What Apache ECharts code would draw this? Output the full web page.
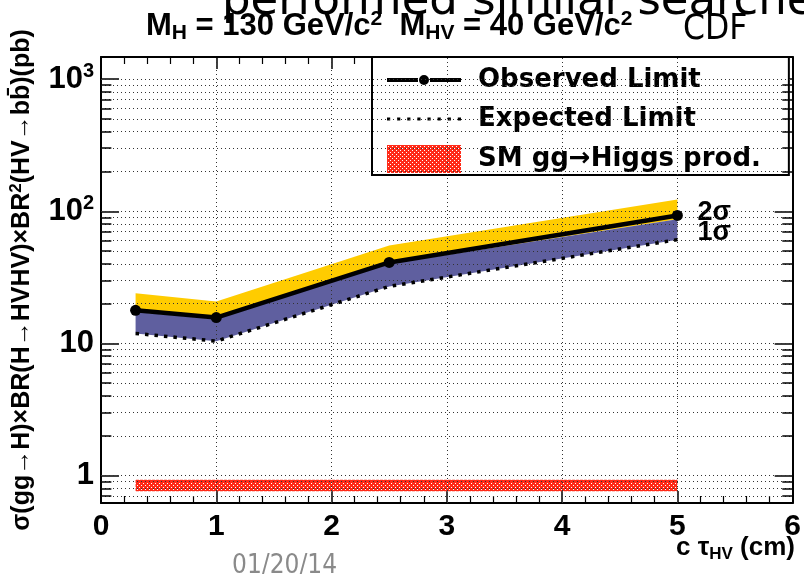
<!DOCTYPE html>
<html><head><meta charset="utf-8">
<script src="https://cdn.jsdelivr.net/npm/echarts@6/dist/echarts.min.js"></script>
<style>html,body{margin:0;padding:0;background:#fff;overflow:hidden}#c{width:804px;height:574px}</style>
</head><body><div id="c"></div>
<script>
// ---- data ----
const ctau = [0.3, 1, 2.5, 5];
const observed = [17.8, 15.7, 41, 93];
const expected = [11.9, 10.4, 27, 61];
const oneSigmaUp = [17.3, 15.3, 40, 87];
const twoSigmaUp = [24, 20.8, 55, 123];
const smX = [0.3, 5];
const smBand = [0.76, 0.93];
const xGridValues = [1, 2, 3, 4, 5];
const yDecades = [1, 10, 100, 1000];
const yMinor = [0.7, 0.8, 0.9, 2, 3, 4, 5, 6, 7, 8, 9, 20, 30, 40, 50, 60, 70, 80, 90, 200, 300, 400, 500, 600, 700, 800, 900];
const seriesNames = ['Observed Limit', 'Expected Limit', 'SM gg\u2192Higgs prod.'];

// ---- styling helpers ----
const BOLD = 'Liberation Sans, Arial, sans-serif';
const COND = '"DejaVu Sans Condensed", "DejaVu Sans", sans-serif';
function makePattern() {
  const c = document.createElement('canvas'); c.width = 4; c.height = 4;
  const g = c.getContext('2d');
  g.fillStyle = '#ff2a18'; g.fillRect(0, 0, 4, 4);
  g.fillStyle = '#ffffff'; g.fillRect(1, 1, 1, 1); g.fillRect(3, 3, 1, 1);
  return c;
}
const smFill = { image: makePattern(), repeat: 'repeat' };

function bandSeries(name, upper, lower, color, z, extraText) {
  return {
    type: 'custom', name: name, z: z, silent: true,
    xAxisIndex: 0, yAxisIndex: 0,
    data: ctau.map((x, i) => [x, upper[i], lower[i]]),
    encode: { x: 0, y: [1, 2] },
    renderItem: function (params, api) {
      if (params.dataIndex !== 0) return null;
      const pts = [];
      for (let i = 0; i < ctau.length; i++) pts.push(api.coord([ctau[i], upper[i]]));
      for (let i = ctau.length - 1; i >= 0; i--) pts.push(api.coord([ctau[i], lower[i]]));
      const children = [{ type: 'polygon', shape: { points: pts }, style: { fill: color } }];
      if (extraText) {
        const n = ctau.length - 1;
        const p = api.coord([ctau[n], observed[n]]);
        children.push({ type: 'text', x: p[0] + 20, y: p[1] - 3,
          style: { text: '2\u03c3', font: 'bold 27px ' + BOLD, fill: '#000', verticalAlign: 'middle' } });
        children.push({ type: 'text', x: p[0] + 20, y: p[1] + 17,
          style: { text: '1\u03c3', font: 'bold 27px ' + BOLD, fill: '#000', verticalAlign: 'middle' } });
      }
      return { type: 'group', children: children };
    }
  };
}

const gridLineData = yMinor.concat(yDecades).map(v => ({ yAxis: v }))
  .concat(xGridValues.map(v => ({ xAxis: v })));
const tickData = [];
yMinor.forEach(v => {
  tickData.push([{ coord: [0, v] }, { coord: [0.09, v] }]);
  tickData.push([{ coord: [5.91, v] }, { coord: [6, v] }]);
});

// legend icons
const obsIcon = 'path://M0,3h31v4h-31z M32,5a5,5 0 1,0 10,0a5,5 0 1,0 -10,0z M43,3h31v4h-31z';
let expPath = 'path://';
for (let i = 0; i < 8; i++) { const x = 2 + i * 9.5; expPath += 'M' + x + ',0h3v3h-3z '; }

const chart = echarts.init(document.getElementById('c'));
chart.setOption({
  animation: false,
  backgroundColor: '#fff',
  grid: { left: 90, right: 9, top: 57, bottom: 71 },
  title: {
    left: 141, top: 4,
    text: '{m|M}{sub|H}{m| = 130 GeV/c}{sup|2}{m|  M}{sub|HV}{m| = 40 GeV/c}{sup|2}',
    textStyle: {
      rich: {
        m: { fontFamily: BOLD, fontWeight: 'bold', fontSize: 31, color: '#000' },
        sub: { fontFamily: BOLD, fontWeight: 'bold', fontSize: 21, color: '#000', padding: [14, 0, 0, 0] },
        sup: { fontFamily: BOLD, fontWeight: 'bold', fontSize: 21, color: '#000', padding: [0, 0, 14, 0] }
      }
    }
  },
  legend: {
    orient: 'vertical', left: 372, top: 57,
    backgroundColor: '#fff', borderColor: '#000', borderWidth: 2,
    padding: [10, 28, 2, 15], itemGap: 13, itemWidth: 74, itemHeight: 28,
    textStyle: { fontFamily: '"DejaVu Sans", sans-serif', fontWeight: 'bold', fontSize: 26, color: '#000', padding: [0, 0, 0, 12] },
    data: [
      { name: seriesNames[0], icon: obsIcon },
      { name: seriesNames[1], icon: expPath },
      { name: seriesNames[2], icon: 'rect', itemStyle: { color: smFill } }
    ]
  },
  xAxis: [{
    type: 'value', min: 0, max: 6, interval: 1, position: 'bottom',
    axisLine: { show: true, onZero: false, lineStyle: { color: '#000', width: 2 } },
    axisTick: { inside: true, length: 12, lineStyle: { color: '#000', width: 1.5 } },
    minorTick: { show: true, splitNumber: 5, length: 7, lineStyle: { color: '#000', width: 1.2 } },
    splitLine: { show: false },
    axisLabel: { fontFamily: BOLD, fontWeight: 'bold', fontSize: 30, color: '#000', margin: 9 }
  }, {
    type: 'value', min: 0, max: 6, interval: 1, position: 'top',
    axisLine: { show: true, onZero: false, lineStyle: { color: '#000', width: 2 } },
    axisTick: { inside: true, length: 12, lineStyle: { color: '#000', width: 1.5 } },
    minorTick: { show: true, splitNumber: 5, length: 7, lineStyle: { color: '#000', width: 1.2 } },
    splitLine: { show: false }, axisLabel: { show: false }
  }],
  yAxis: [{
    type: 'log', logBase: 10, min: 0.62, max: 1470, position: 'left',
    name: '{t|\u03c3(gg\u2192H)\u00d7BR(H\u2192HVHV)\u00d7BR}{s|2}{t|(HV\u2192bb\u0304)(pb)}',
    nameLocation: 'middle', nameRotate: 90, nameGap: 64,
    nameTextStyle: {
      padding: [0, 0, 0, 0],
      rich: {
        t: { fontFamily: BOLD, fontWeight: 'bold', fontSize: 25, color: '#000' },
        s: { fontFamily: BOLD, fontWeight: 'bold', fontSize: 17, color: '#000', padding: [0, 0, 12, 0] }
      }
    },
    axisLine: { show: true, onZero: false, lineStyle: { color: '#000', width: 2 } },
    axisTick: { inside: true, length: 18, lineStyle: { color: '#000', width: 1.5 } },
    splitLine: { show: false },
    axisLabel: {
      margin: 7, showMinLabel: false, showMaxLabel: false,
      formatter: function (v) {
        const e = Math.round(Math.log10(v));
        if (Math.abs(Math.log10(v) - e) > 1e-6) return '';
        if (e >= 2) return '{a|10}{s|' + e + '}';
        if (e === 1) return '{a|10}';
        if (e === 0) return '{a|1}';
        return '';
      },
      rich: {
        a: { fontFamily: BOLD, fontWeight: 'bold', fontSize: 31, color: '#000' },
        s: { fontFamily: BOLD, fontWeight: 'bold', fontSize: 20, color: '#000', padding: [0, 0, 16, 0] }
      }
    }
  }, {
    type: 'log', logBase: 10, min: 0.62, max: 1470, position: 'right',
    axisLine: { show: true, onZero: false, lineStyle: { color: '#000', width: 2 } },
    axisTick: { inside: true, length: 18, lineStyle: { color: '#000', width: 1.5 } },
    splitLine: { show: false }, axisLabel: { show: false }
  }],
  graphic: [
    { type: 'text', x: 222, y: 2, z: 100,
      style: { text: 'performed similar searche', font: '45px "DejaVu Sans", sans-serif', fill: '#000', verticalAlign: 'middle' } },
    { type: 'text', x: 683, y: 30, z: 100,
      style: { text: 'CDF', font: '35px ' + COND, fill: '#000', verticalAlign: 'middle' } },
    { type: 'text', x: 232, y: 566, z: 100,
      style: { text: '01/20/14', font: '26px ' + COND, fill: '#8a8a8a', verticalAlign: 'middle' } },
    { type: 'text', x: 795, y: 548, z: 100,
      style: { text: '{m|c \u03c4}{sub|HV}{m| (cm)}', align: 'right', verticalAlign: 'middle',
        rich: {
          m: { font: 'bold 26px ' + BOLD, fill: '#000' },
          sub: { font: 'bold 17px ' + BOLD, fill: '#000', padding: [12, 0, 0, 0] }
        } } }
  ],
  series: [
    { type: 'line', name: '_grid', z: 1, silent: true, symbol: 'none',
      data: [[ctau[0], observed[0]]], lineStyle: { width: 0 },
      markLine: { silent: true, symbol: ['none', 'none'], label: { show: false },
        lineStyle: { color: '#333', width: 1, type: [1, 3] }, data: gridLineData } },
    { type: 'custom', name: seriesNames[2], z: 2, silent: true,
      data: [[smX[0], smBand[1], smX[1], smBand[0]]],
      itemStyle: { color: smFill },
      renderItem: function (params, api) {
        const p0 = api.coord([smX[0], smBand[1]]);
        const p1 = api.coord([smX[1], smBand[0]]);
        return { type: 'rect', shape: { x: p0[0], y: p0[1], width: p1[0] - p0[0], height: p1[1] - p0[1] },
          style: { fill: smFill } };
      } },
    bandSeries('2sigma', twoSigmaUp, oneSigmaUp, '#ffcc00', 3, true),
    bandSeries('1sigma', oneSigmaUp, expected, '#5f5f9f', 4, false),
    { type: 'line', name: seriesNames[1], z: 5, symbol: 'none', color: '#000',
      data: ctau.map((x, i) => [x, expected[i]]),
      lineStyle: { color: '#000', width: 3.5, type: [3.5, 6] } },
    { type: 'line', name: seriesNames[0], z: 6, symbol: 'circle', symbolSize: 11, color: '#000',
      data: ctau.map((x, i) => [x, observed[i]]),
      itemStyle: { color: '#000' },
      lineStyle: { color: '#000', width: 4.5 } },
    { type: 'line', name: '_ticks', z: 10, silent: true, symbol: 'none',
      data: [[ctau[0], observed[0]]], lineStyle: { width: 0 },
      markLine: { silent: true, symbol: ['none', 'none'], label: { show: false },
        lineStyle: { color: '#000', width: 1.5, type: 'solid' }, data: tickData } }
  ]
});
</script>
</body></html>
